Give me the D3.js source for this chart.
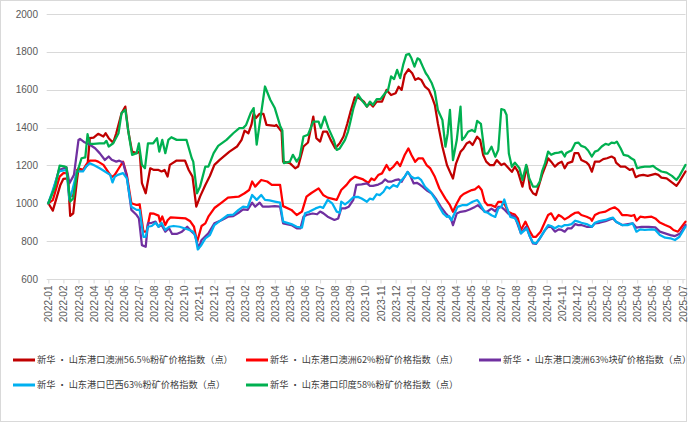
<!DOCTYPE html>
<html><head><meta charset="utf-8">
<script src="https://cdn.jsdelivr.net/npm/d3@7"></script>
<style>body{margin:0;background:#fff}svg{display:block}</style>
</head><body>
<svg id="c" width="700" height="423"></svg>
<script>
// month labels (category positions 0..42)
const monthLabels = [];
for (let y = 2022; y <= 2025; y++) for (let m = 1; m <= 12; m++) { if (y === 2025 && m > 7) break; monthLabels.push(y + "-" + String(m).padStart(2, "0")); }
const yTicks = [600, 800, 1000, 1200, 1400, 1600, 1800, 2000];
const seriesNames = [
  "新华 · 山东港口澳洲56.5%粉矿价格指数（点）",
  "新华 · 山东港口澳洲62%粉矿价格指数（点）",
  "新华 · 山东港口澳洲63%块矿价格指数（点）",
  "新华 · 山东港口巴西63%粉矿价格指数（点）",
  "新华 · 山东港口印度58%粉矿价格指数（点）"
];
const seriesColors = ["#C00000", "#FF0000", "#7030A0", "#00B0F0", "#00B050"];

// [month offset from 2022-01, index value]
const au565 = [[0,1000],[0.3,961],[0.8,1097],[1.0,1129],[1.3,1132],[1.45,933],[1.65,947],[1.9,1123],[2.0,1185],[2.3,1175],[2.6,1203],[2.75,1344],[3.0,1347],[3.3,1367],[3.65,1353],[3.8,1370],[4.0,1344],[4.3,1320],[4.5,1370],[4.85,1476],[5.1,1511],[5.3,1379],[5.55,1273],[5.85,1265],[6.05,1273],[6.2,1106],[6.45,1053],[6.75,1185],[7.0,1176],[7.3,1176],[7.5,1168],[7.7,1176],[7.9,1141],[8.05,1203],[8.5,1226],[9.05,1226],[9.3,1176],[9.55,1141],[9.8,982],[10.05,1035],[10.4,1097],[10.7,1144],[11.0,1203],[11.35,1229],[12.0,1273],[12.5,1300],[12.8,1335],[13.0,1384],[13.25,1370],[13.45,1414],[13.6,1476],[13.75,1450],[14.0,1473],[14.25,1472],[14.45,1414],[15.0,1409],[15.1,1414],[15.45,1379],[15.55,1220],[16.0,1212],[16.35,1185],[16.55,1194],[16.9,1300],[17.2,1321],[17.55,1458],[17.75,1344],[18.0,1326],[18.2,1379],[18.45,1379],[18.7,1335],[19.0,1291],[19.3,1317],[19.55,1353],[19.8,1420],[20.0,1480],[20.3,1560],[20.6,1555],[20.9,1537],[21.1,1511],[21.3,1529],[21.5,1511],[21.75,1537],[22.1,1537],[22.4,1599],[22.7,1572],[23.0,1581],[23.2,1616],[23.4,1599],[23.6,1678],[23.85,1708],[24.1,1687],[24.3,1652],[24.5,1661],[24.7,1652],[24.95,1616],[25.2,1599],[25.4,1563],[25.6,1519],[25.8,1422],[26.1,1299],[26.4,1202],[26.6,1166],[26.8,1131],[27.0,1210],[27.3,1272],[27.5,1290],[27.7,1316],[27.9,1325],[28.1,1308],[28.4,1352],[28.6,1334],[28.8,1255],[29.0,1220],[29.25,1202],[29.5,1202],[29.7,1228],[30.0,1202],[30.2,1210],[30.5,1184],[30.7,1166],[30.9,1193],[31.1,1167],[31.4,1088],[31.7,1194],[31.9,1079],[32.1,1053],[32.3,1044],[32.7,1150],[33.0,1212],[33.1,1238],[33.3,1220],[33.55,1194],[33.8,1212],[34.0,1220],[34.2,1185],[34.4,1212],[34.7,1220],[34.85,1265],[35.1,1265],[35.3,1229],[35.65,1215],[35.8,1203],[36.0,1167],[36.2,1220],[36.5,1220],[36.75,1233],[37.0,1238],[37.3,1247],[37.5,1238],[37.6,1215],[37.9,1194],[38.2,1194],[38.5,1176],[38.7,1182],[38.9,1138],[39.1,1146],[39.4,1150],[39.7,1145],[39.95,1150],[40.2,1155],[40.4,1150],[40.6,1136],[40.95,1132],[41.3,1110],[41.6,1092],[41.8,1115],[42.2,1168]];

const au62 = [[0,1000],[0.3,1017],[0.75,1141],[1.0,1159],[1.25,1159],[1.4,1035],[1.65,1040],[1.9,1176],[2.3,1176],[2.5,1203],[2.75,1226],[3.1,1226],[3.3,1220],[3.65,1203],[4.2,1138],[4.4,1150],[4.6,1176],[4.95,1220],[5.2,1150],[5.5,1000],[5.85,991],[6.05,995],[6.3,850],[6.5,850],[6.75,947],[7.0,945],[7.3,935],[7.4,903],[7.55,930],[7.75,885],[7.9,910],[8.1,926],[9.1,920],[9.4,905],[9.65,876],[9.85,795],[10.15,880],[10.4,894],[10.6,929],[11.0,975],[11.5,1005],[11.9,1030],[12.6,1035],[13.0,1053],[13.3,1070],[13.5,1115],[13.7,1088],[14.1,1123],[14.5,1115],[14.8,1097],[15.35,1097],[15.55,985],[16.1,965],[16.45,938],[16.8,956],[17.1,1035],[17.4,1053],[17.9,1079],[18.2,1044],[18.5,1030],[19.1,1018],[19.4,1070],[19.75,1097],[20.0,1123],[20.3,1141],[20.85,1126],[21.2,1108],[21.4,1131],[21.6,1122],[21.85,1149],[22.1,1158],[22.4,1202],[22.6,1175],[22.85,1193],[23.1,1219],[23.3,1196],[23.6,1255],[23.85,1290],[24.05,1255],[24.3,1219],[24.5,1237],[24.8,1237],[25.05,1202],[25.3,1184],[25.6,1140],[25.9,1078],[26.3,1025],[26.6,990],[26.8,955],[27.05,999],[27.3,1035],[27.5,1049],[27.8,1061],[28.05,1070],[28.25,1073],[28.5,1090],[28.7,1070],[28.9,1008],[29.1,990],[29.35,990],[29.6,981],[29.8,1008],[30.0,1008],[30.25,990],[30.45,955],[30.7,946],[30.9,940],[31.1,920],[31.3,859],[31.6,903],[31.9,850],[32.1,823],[32.3,823],[32.6,850],[32.9,903],[33.1,938],[33.3,947],[33.55,912],[33.8,938],[34.0,929],[34.2,915],[34.5,929],[34.65,938],[34.9,950],[35.1,952],[35.3,938],[35.65,929],[35.9,920],[36.0,908],[36.2,938],[36.5,950],[36.9,956],[37.2,970],[37.5,979],[37.75,965],[38.0,938],[38.3,938],[38.6,933],[38.8,938],[38.95,908],[39.2,929],[39.5,926],[39.95,929],[40.2,920],[40.5,898],[40.85,885],[41.2,873],[41.4,859],[41.7,850],[41.95,876],[42.2,903]];

const au63lump = [[0,1000],[0.3,1060],[0.7,1176],[1.2,1190],[1.4,1106],[1.7,1150],[2.0,1335],[2.1,1340],[2.4,1322],[2.75,1309],[3.1,1291],[3.4,1265],[3.75,1229],[4.0,1247],[4.2,1230],[4.5,1220],[4.7,1225],[4.95,1215],[5.2,1141],[5.5,965],[5.85,938],[6.0,920],[6.2,779],[6.45,770],[6.6,894],[6.85,897],[7.1,903],[7.3,876],[7.5,885],[7.75,850],[8.0,868],[8.2,838],[8.5,838],[8.85,850],[9.2,876],[9.5,850],[9.7,835],[9.95,762],[10.15,806],[10.6,841],[11.0,894],[11.5,912],[11.9,929],[12.25,932],[12.6,950],[12.9,968],[13.2,965],[13.5,1003],[13.7,982],[14.0,1003],[14.2,982],[14.6,982],[15.0,985],[15.35,982],[15.55,894],[16.1,885],[16.45,868],[16.7,868],[16.9,929],[17.1,938],[17.5,946],[17.8,942],[18.0,956],[18.2,948],[18.5,929],[18.95,912],[19.2,920],[19.4,973],[19.65,973],[19.9,982],[20.2,1018],[20.4,1097],[20.75,1100],[21.1,1105],[21.3,1092],[21.5,1092],[21.85,1099],[22.1,1108],[22.3,1126],[22.5,1114],[22.7,1114],[22.95,1122],[23.2,1126],[23.4,1114],[23.6,1140],[23.8,1166],[23.95,1149],[24.2,1105],[24.4,1108],[24.6,1099],[24.8,1087],[25.05,1069],[25.4,1052],[25.7,1020],[26.0,981],[26.3,949],[26.5,932],[26.7,910],[26.8,884],[27.05,946],[27.3,955],[27.6,958],[27.9,967],[28.25,981],[28.45,990],[28.7,972],[28.9,955],[29.1,958],[29.35,972],[29.6,958],[29.8,981],[30.0,981],[30.25,963],[30.45,946],[30.7,935],[30.9,929],[31.3,841],[31.65,876],[31.9,823],[32.1,788],[32.3,785],[32.55,815],[32.9,859],[33.1,876],[33.3,876],[33.55,850],[33.8,862],[34.0,859],[34.2,850],[34.4,868],[34.65,868],[34.9,890],[35.1,885],[35.3,885],[35.65,876],[36.0,876],[36.2,894],[36.5,897],[36.9,906],[37.2,915],[37.4,920],[37.6,903],[38.0,885],[38.4,890],[38.7,894],[38.95,871],[39.3,876],[39.75,876],[40.2,873],[40.5,850],[40.85,841],[41.2,832],[41.5,827],[41.85,841],[42.2,885]];

const br63 = [[0,1000],[0.3,1070],[0.7,1168],[1.2,1176],[1.4,1018],[1.6,1071],[1.9,1168],[2.3,1168],[2.5,1194],[2.75,1212],[3.1,1198],[3.4,1185],[3.75,1168],[4.1,1150],[4.25,1110],[4.4,1140],[4.6,1150],[4.95,1159],[5.2,1132],[5.5,982],[5.85,965],[6.05,965],[6.3,823],[6.45,823],[6.6,876],[6.85,880],[7.1,897],[7.3,876],[7.5,897],[7.75,859],[8.0,876],[8.3,880],[8.7,876],[9.0,868],[9.3,860],[9.6,850],[9.75,823],[9.9,756],[10.1,775],[10.4,815],[10.7,832],[11.0,885],[11.5,915],[11.9,938],[12.25,940],[12.6,965],[12.9,982],[13.2,978],[13.5,1044],[13.8,1018],[14.1,1044],[14.35,1018],[14.65,1015],[15.0,1009],[15.35,1003],[15.55,903],[16.1,890],[16.45,876],[16.8,872],[17.0,947],[17.3,956],[17.7,973],[18.0,982],[18.2,976],[18.5,1018],[18.8,1000],[19.1,956],[19.3,950],[19.4,1009],[19.65,994],[19.9,1009],[20.2,1032],[20.5,1034],[20.75,1025],[21.1,1008],[21.3,1025],[21.5,1020],[21.75,1048],[21.95,1043],[22.2,1061],[22.4,1087],[22.6,1078],[22.85,1096],[23.1,1087],[23.3,1114],[23.6,1140],[23.8,1166],[24.0,1143],[24.25,1131],[24.5,1136],[24.7,1122],[24.95,1087],[25.3,1061],[25.6,1025],[25.9,981],[26.15,946],[26.4,928],[26.55,932],[26.7,910],[26.9,946],[27.1,981],[27.4,990],[27.7,990],[27.9,999],[28.1,1008],[28.4,1017],[28.5,1008],[28.7,981],[28.9,955],[29.1,950],[29.35,937],[29.6,928],[29.8,972],[30.0,981],[30.2,1020],[30.35,981],[30.6,928],[30.9,921],[31.1,894],[31.3,841],[31.7,868],[31.9,823],[32.1,792],[32.3,788],[32.55,815],[32.9,859],[33.1,885],[33.3,880],[33.55,868],[33.8,880],[34.0,876],[34.2,885],[34.4,885],[34.65,890],[34.9,908],[35.1,903],[35.3,897],[35.65,890],[36.0,876],[36.2,897],[36.5,906],[36.9,912],[37.2,920],[37.4,924],[37.6,903],[38.0,885],[38.4,885],[38.7,894],[38.95,850],[39.2,862],[39.5,859],[39.95,862],[40.2,859],[40.5,832],[40.85,818],[41.2,815],[41.5,806],[41.8,823],[42.2,876]];

const in58 = [[0,1000],[0.45,1088],[0.75,1199],[1.05,1195],[1.2,1190],[1.45,1009],[1.65,1026],[1.9,1159],[2.2,1238],[2.45,1243],[2.6,1365],[2.75,1314],[3.0,1314],[3.4,1316],[3.7,1316],[3.85,1330],[4.0,1300],[4.3,1317],[4.65,1370],[4.85,1476],[5.1,1494],[5.3,1379],[5.55,1256],[5.85,1265],[6.0,1317],[6.2,1203],[6.4,1185],[6.6,1317],[6.95,1317],[7.2,1344],[7.35,1273],[7.55,1335],[7.75,1265],[7.95,1335],[8.15,1349],[8.5,1335],[9.15,1335],[9.5,1238],[9.6,1220],[9.85,1053],[10.05,1088],[10.4,1194],[10.6,1194],[10.95,1265],[11.25,1303],[11.8,1335],[12.25,1370],[12.65,1397],[12.9,1397],[13.1,1414],[13.4,1476],[13.6,1503],[13.8,1310],[14.35,1617],[14.7,1547],[15.0,1503],[15.35,1410],[15.5,1385],[15.6,1212],[16.0,1220],[16.2,1256],[16.45,1220],[16.65,1245],[16.9,1353],[17.2,1362],[17.55,1432],[17.9,1432],[18.05,1397],[18.3,1458],[18.55,1397],[18.9,1335],[19.1,1282],[19.3,1290],[19.65,1335],[19.85,1379],[20.0,1430],[20.2,1500],[20.5,1575],[20.75,1546],[21.1,1511],[21.3,1537],[21.5,1520],[21.75,1550],[22.0,1550],[22.3,1581],[22.5,1599],[22.7,1670],[22.9,1656],[23.1,1705],[23.3,1661],[23.5,1731],[23.7,1784],[23.9,1789],[24.05,1766],[24.25,1722],[24.45,1766],[24.6,1758],[24.8,1722],[25.0,1687],[25.15,1670],[25.4,1634],[25.6,1590],[25.8,1493],[26.1,1440],[26.3,1299],[26.45,1369],[26.6,1493],[26.8,1228],[27.05,1334],[27.3,1511],[27.4,1334],[27.6,1352],[27.8,1378],[28.05,1387],[28.25,1378],[28.4,1435],[28.65,1420],[28.9,1263],[29.1,1263],[29.35,1299],[29.6,1246],[29.8,1282],[30.0,1498],[30.2,1493],[30.35,1466],[30.5,1263],[30.7,1193],[30.9,1215],[31.2,1185],[31.4,1123],[31.65,1203],[31.85,1132],[32.1,1088],[32.35,1088],[32.55,1115],[32.7,1168],[32.9,1212],[33.1,1273],[33.3,1256],[33.55,1265],[33.8,1268],[34.0,1273],[34.2,1247],[34.3,1265],[34.5,1273],[34.65,1279],[34.9,1318],[35.1,1321],[35.3,1303],[35.55,1296],[35.75,1279],[36.0,1247],[36.2,1273],[36.4,1279],[36.65,1300],[36.9,1314],[37.1,1309],[37.3,1321],[37.5,1318],[37.65,1326],[37.9,1291],[38.1,1256],[38.4,1250],[38.6,1238],[38.8,1229],[39.0,1185],[39.2,1190],[39.5,1194],[39.85,1194],[40.05,1198],[40.3,1182],[40.6,1168],[40.95,1162],[41.3,1145],[41.6,1123],[41.8,1145],[42.2,1203]];

const allSeries = [au565, au62, au63lump, br63, in58];

const svg = d3.select("#c");
const x = d3.scaleLinear().domain([0, 42]).range([48.3, 682.5]);
const y = d3.scaleLinear().domain([600, 2000]).range([279, 14]);

// outer border
svg.append("rect").attr("x", 0.5).attr("y", 0.5).attr("width", 686).attr("height", 421)
  .attr("fill", "#fff").attr("stroke", "#d9d9d9").attr("stroke-width", 1);

// gridlines
svg.append("g").selectAll("line").data(yTicks).join("line")
  .attr("x1", 46.7).attr("x2", 685.5)
  .attr("y1", d => Math.round(y(d)) + 0.5).attr("y2", d => Math.round(y(d)) + 0.5)
  .attr("stroke", "#d9d9d9").attr("stroke-width", 1);

// y labels
svg.append("g").selectAll("text").data(yTicks).join("text")
  .attr("x", 38).attr("y", d => y(d)).attr("dy", "0.35em")
  .attr("text-anchor", "end").attr("font-family", "Liberation Sans, Arial, sans-serif")
  .attr("font-size", 10).attr("fill", "#595959").text(d => d);

// x axis ticks & labels
const xAxis = d3.axisBottom(x).tickValues(d3.range(monthLabels.length)).tickFormat(i => monthLabels[i]).tickSize(4).tickSizeOuter(0);
const gx = svg.append("g").attr("transform", "translate(0,279.5)").call(xAxis);
gx.select(".domain").remove();
gx.selectAll(".tick line").attr("stroke", "#d9d9d9");
gx.selectAll(".tick text")
  .attr("font-family", "Liberation Sans, Arial, sans-serif").attr("font-size", 10).attr("fill", "#595959")
  .attr("text-anchor", "end").attr("transform", "rotate(-90)").attr("x", -6).attr("y", 0).attr("dy", "0.35em");

// lines
const line = d3.line().x(d => x(d[0])).y(d => y(d[1]));
svg.append("g").selectAll("path").data(allSeries).join("path")
  .attr("d", d => line(d)).attr("fill", "none")
  .attr("stroke", (d, i) => seriesColors[i]).attr("stroke-width", 2.25)
  .attr("stroke-linejoin", "round").attr("stroke-linecap", "round");

// legend
const legendPos = [[12, 360], [245, 360], [478, 360], [12, 385], [245, 385]];
const lg = svg.append("g").selectAll("g").data(seriesNames).join("g")
  .attr("transform", (d, i) => `translate(${legendPos[i][0]},${legendPos[i][1]})`);
lg.append("line").attr("x1", 1).attr("x2", 23).attr("y1", 0).attr("y2", 0)
  .attr("stroke", (d, i) => seriesColors[i]).attr("stroke-width", 3);
lg.append("text").attr("x", 25).attr("y", 0).attr("dy", "0.35em")
  .attr("font-family", "Noto Sans CJK SC, sans-serif").attr("font-size", 9.2).attr("fill", "#404040")
  .text(d => d);
</script>
</body></html>
